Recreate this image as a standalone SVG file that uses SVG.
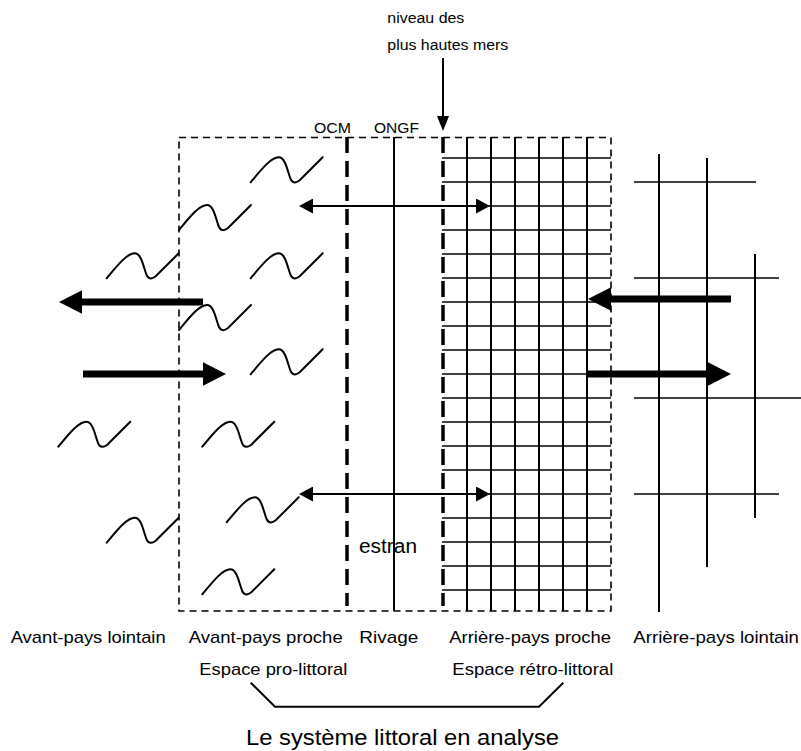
<svg xmlns="http://www.w3.org/2000/svg" width="801" height="751" viewBox="0 0 801 751">
<defs>
<style>
text{font-family:"Liberation Sans",Arial,sans-serif;fill:#000}
.s{font-size:14px}
.m{font-size:17px}
.b{font-size:22px}
.e{font-size:20px}
.box{fill:none;stroke:#000;stroke-width:1.6;stroke-dasharray:7 5}
.tdash{stroke:#000;stroke-width:3.5;stroke-dasharray:16 8;fill:none}
.g{stroke:#000;stroke-width:2;fill:none}
.gh{stroke:#000;stroke-width:1.6;fill:none}
.w{stroke:#000;stroke-width:2;fill:none;stroke-linecap:round}
.c{stroke:#000;stroke-width:2;fill:none}
.thick{fill:#000;stroke:none}
</style>
<path id="wave" d="M0,0 C10,-12 20,-25 28,-25 C35,-25 37,-10 40,-3 C42,1 45,1 49,-2 L72,-25"/>
<marker id="ah" markerUnits="userSpaceOnUse" markerWidth="15" markerHeight="15" refX="10" refY="7.5" orient="auto-start-reverse" viewBox="0 0 15 15">
<path d="M0,0 L14,7.5 L0,15 z" fill="#000"/>
</marker>
</defs>
<rect width="801" height="751" fill="#fff"/>

<g id="zone-box">
<rect class="box" x="179" y="137.5" width="432" height="473.5"/>
</g>

<g id="grid-retro">
<line class="gh" x1="442" y1="158" x2="611" y2="158"/>
<line class="gh" x1="442" y1="182" x2="611" y2="182"/>
<line class="gh" x1="442" y1="206" x2="611" y2="206"/>
<line class="gh" x1="442" y1="230" x2="611" y2="230"/>
<line class="gh" x1="442" y1="254" x2="611" y2="254"/>
<line class="gh" x1="442" y1="278" x2="611" y2="278"/>
<line class="gh" x1="442" y1="302" x2="611" y2="302"/>
<line class="gh" x1="442" y1="326" x2="611" y2="326"/>
<line class="gh" x1="442" y1="350" x2="611" y2="350"/>
<line class="gh" x1="442" y1="374" x2="611" y2="374"/>
<line class="gh" x1="442" y1="398" x2="611" y2="398"/>
<line class="gh" x1="442" y1="422" x2="611" y2="422"/>
<line class="gh" x1="442" y1="446" x2="611" y2="446"/>
<line class="gh" x1="442" y1="470" x2="611" y2="470"/>
<line class="gh" x1="442" y1="494" x2="611" y2="494"/>
<line class="gh" x1="442" y1="518" x2="611" y2="518"/>
<line class="gh" x1="442" y1="542" x2="611" y2="542"/>
<line class="gh" x1="442" y1="566" x2="611" y2="566"/>
<line class="gh" x1="442" y1="590" x2="611" y2="590"/>
<line class="g" x1="467" y1="137" x2="467" y2="611"/>
<line class="g" x1="491" y1="137" x2="491" y2="611"/>
<line class="g" x1="515" y1="137" x2="515" y2="611"/>
<line class="g" x1="539" y1="137" x2="539" y2="611"/>
<line class="g" x1="563" y1="137" x2="563" y2="611"/>
<line class="g" x1="587" y1="137" x2="587" y2="611"/>
</g>

<g id="grid-far">
<line class="g" x1="659" y1="154" x2="659" y2="612"/>
<line class="g" x1="707" y1="158" x2="707" y2="567"/>
<line class="g" x1="755" y1="254" x2="755" y2="518"/>
<line class="gh" x1="634" y1="182" x2="756" y2="182"/>
<line class="gh" x1="634" y1="278" x2="779" y2="278"/>
<line class="gh" x1="634" y1="398" x2="801" y2="398"/>
<line class="gh" x1="634" y1="494" x2="779" y2="494"/>
</g>

<g id="boundaries">
<line id="ocm-line" class="tdash" x1="347" y1="137" x2="347" y2="606"/>
<line id="ongf-line" class="g" x1="394" y1="137" x2="394" y2="611"/>
<line id="phm-line" class="tdash" x1="443" y1="137" x2="443" y2="606"/>
</g>

<g id="waves" class="w">
<use href="#wave" x="250.7" y="182.3"/>
<use href="#wave" x="179" y="230"/>
<use href="#wave" x="106.7" y="278.3"/>
<use href="#wave" x="250.7" y="278.3"/>
<use href="#wave" x="179" y="330"/>
<use href="#wave" x="250.7" y="374.3"/>
<use href="#wave" x="58.3" y="446.7"/>
<use href="#wave" x="202.3" y="446.7"/>
<use href="#wave" x="226.7" y="522.3"/>
<use href="#wave" x="106.7" y="542.7"/>
<use href="#wave" x="202.3" y="594.3"/>
</g>

<g id="connectors">
<line class="c" x1="443" y1="58" x2="443" y2="116"/>
<path class="thick" d="M437,116 L449,116 L443,131 z"/>
<line class="c" x1="303" y1="206" x2="486" y2="206" marker-start="url(#ah)" marker-end="url(#ah)"/>
<line class="c" x1="303" y1="494" x2="486" y2="494" marker-start="url(#ah)" marker-end="url(#ah)"/>
<path class="thick" d="M59,302 L82,290.3 L82,298.5 L203,298.5 L203,305.5 L82,305.5 L82,313.7 z"/>
<path class="thick" d="M226,374 L203,362.3 L203,370.5 L83,370.5 L83,377.5 L203,377.5 L203,385.7 z"/>
<path class="thick" d="M588,299 L611,287.3 L611,295.5 L731,295.5 L731,302.5 L611,302.5 L611,310.7 z"/>
<path class="thick" d="M731,374 L708,362.3 L708,370.5 L587,370.5 L587,377.5 L708,377.5 L708,385.7 z"/>
<polyline class="c" points="250.7,682.7 275,706.7 539,706.7 563.3,682.7"/>
</g>

<g id="labels">
<text class="s" x="387.3" y="23" textLength="77" lengthAdjust="spacingAndGlyphs">niveau des</text>
<text class="s" x="387.3" y="50" textLength="121" lengthAdjust="spacingAndGlyphs">plus hautes mers</text>
<text class="s" x="314" y="133" textLength="37" lengthAdjust="spacingAndGlyphs">OCM</text>
<text class="s" x="374" y="133" textLength="45" lengthAdjust="spacingAndGlyphs">ONGF</text>
<text class="e" x="359" y="552.7" textLength="58" lengthAdjust="spacingAndGlyphs">estran</text>
<text class="m" x="10.7" y="643" textLength="155" lengthAdjust="spacingAndGlyphs">Avant-pays lointain</text>
<text class="m" x="188.7" y="643" textLength="154" lengthAdjust="spacingAndGlyphs">Avant-pays proche</text>
<text class="m" x="359.3" y="643" textLength="59" lengthAdjust="spacingAndGlyphs">Rivage</text>
<text class="m" x="449.3" y="643" textLength="161.7" lengthAdjust="spacingAndGlyphs">Arrière-pays proche</text>
<text class="m" x="633.3" y="643" textLength="165.7" lengthAdjust="spacingAndGlyphs">Arrière-pays lointain</text>
<text class="m" x="199.3" y="675" textLength="148" lengthAdjust="spacingAndGlyphs">Espace pro-littoral</text>
<text class="m" x="452.3" y="675" textLength="161" lengthAdjust="spacingAndGlyphs">Espace rétro-littoral</text>
<text class="b" x="246" y="745" textLength="313" lengthAdjust="spacingAndGlyphs">Le système littoral en analyse</text>
</g>
</svg>
